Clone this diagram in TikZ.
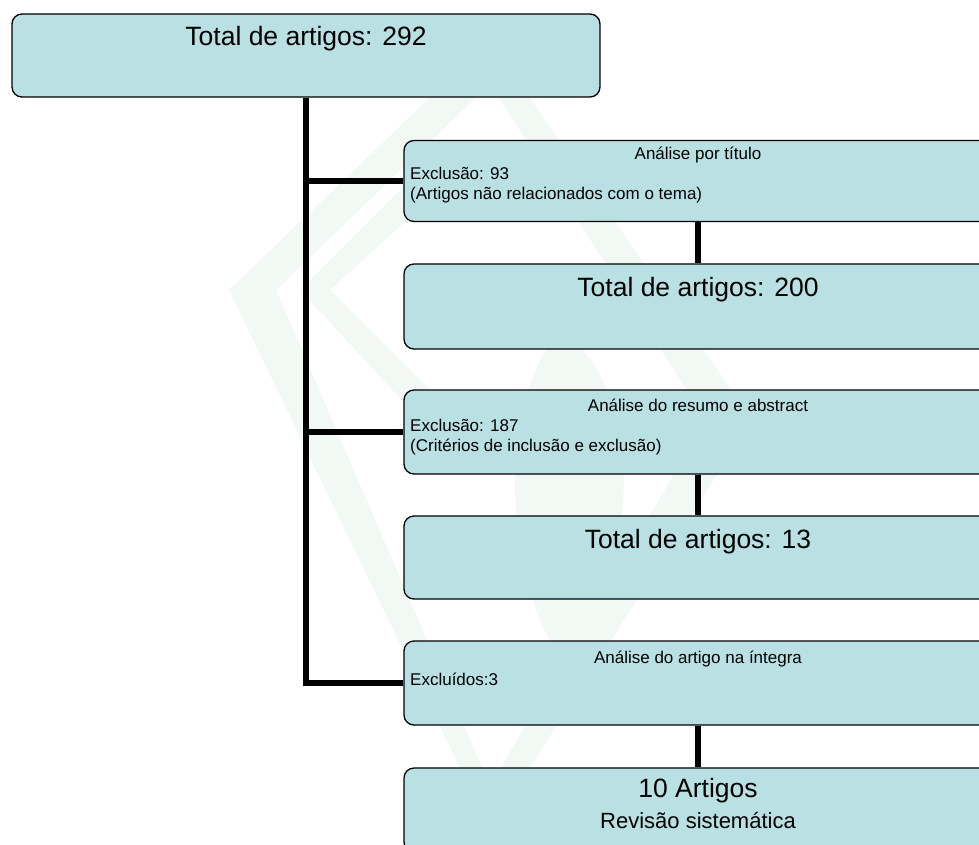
\documentclass[tikz,border=0pt]{standalone}
\usepackage{fontspec}
\setmainfont{Liberation Sans}
\definecolor{boxfill}{RGB}{185,224,227}
\definecolor{wmark}{RGB}{242,248,244}
\begin{document}
\begin{tikzpicture}[x=1pt, y=-1pt,
	box/.style={draw, line width=1.3pt, rounded corners=10pt, fill=boxfill,
		minimum width=588pt, minimum height=84pt, inner sep=0pt},
	conn/.style={line width=5.5pt},
	big/.style={font=\fontsize{26.5}{30}\selectfont, inner sep=0pt},
	mid/.style={font=\fontsize{22}{26}\selectfont, inner sep=0pt},
	small/.style={font=\fontsize{17}{20}\selectfont, inner sep=0pt}]

	\useasboundingbox (0,0) rectangle (979,845);

	\fill[wmark, even odd rule] (229,290) -- (490,40) -- (752,420) -- (490,830) -- cycle
		(276,290) -- (490,84) -- (706,420) -- (490,786) -- cycle;
	\fill[wmark] (300,290) -- (420,170) -- (440,190) -- (330,290) -- (440,400) -- (420,420) -- cycle;
	\fill[wmark] (560,330) .. controls (640,380) and (650,560) .. (560,660)
		.. controls (500,560) and (500,400) .. (560,330);

	\node[box, minimum height=83pt] (b0) at (306,55.5) {};
	\node[box, minimum height=81pt] (b1) at (698,181) {};
	\node[box, minimum height=85pt] (b2) at (698,306.5) {};
	\node[box, minimum height=84pt] (b3) at (698,432) {};
	\node[box, minimum height=83pt] (b4) at (698,557.5) {};
	\node[box, minimum height=84pt] (b5) at (698,683) {};
	\node[box, minimum height=84pt] (b6) at (698,810) {};

	\node[big, anchor=base] (t0) at (306,46) {Total de artigos: 292};

	\node[small, anchor=base] (t1) at (698,160) {Análise por título};
	\node[small, anchor=base west] (e1) at (410,180) {Exclusão: 93};
	\node[small, anchor=base west] (r1) at (410,200) {(Artigos não relacionados com o tema)};

	\node[big, anchor=base] (t2) at (698,296) {Total de artigos: 200};

	\node[small, anchor=base] (t3) at (698,411) {Análise do resumo e abstract};
	\node[small, anchor=base west] (e3) at (410,431) {Exclusão: 187};
	\node[small, anchor=base west] (r3) at (410,451) {(Critérios de inclusão e exclusão)};

	\node[big, anchor=base] (t4) at (698,548) {Total de artigos: 13};

	\node[small, anchor=base] (t5) at (698,663) {Análise do artigo na íntegra};
	\node[small, anchor=base west] (e5) at (410,685) {Excluídos:3};

	\node[big, anchor=base] (t6) at (698,797) {10 Artigos};
	\node[mid, anchor=base] (s6) at (698,828) {Revisão sistemática};

	\draw[conn] (b0.south) |- (b1.west);
	\draw[conn] (b0.south) |- (b3.west);
	\draw[conn] (b0.south) |- (b5.west);
	\draw[conn] (b1.south) -- (b2.north);
	\draw[conn] (b3.south) -- (b4.north);
	\draw[conn] (b5.south) -- (b6.north);

\end{tikzpicture}
\end{document}
